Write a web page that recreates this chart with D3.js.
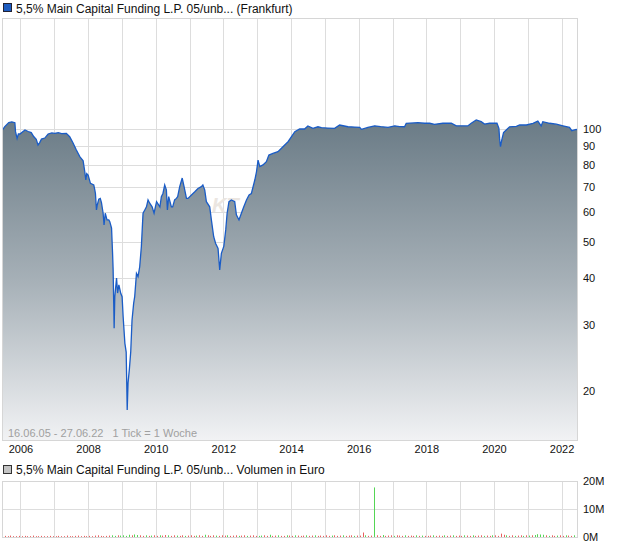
<!DOCTYPE html>
<html><head><meta charset="utf-8">
<script src="https://cdn.jsdelivr.net/npm/d3@7"></script>
<style>
body{margin:0;background:#fff;}
svg{display:block;font-family:"Liberation Sans",Arial,sans-serif;}
</style>
</head><body><svg id="c" width="620" height="546"></svg>
<script>
// ---------- DATA ----------
const titleMain = "5,5% Main Capital Funding L.P. 05/unb... (Frankfurt)";
const titleVol = "5,5% Main Capital Funding L.P. 05/unb... Volumen in Euro";
const infoText = "16.06.05 - 27.06.22   1 Tick = 1 Woche";
const rangeStart = "2005-06-16";
const rangeEnd = "2022-06-27";

const priceDates = [
"2005-06-16","2005-07-16","2005-08-28","2005-09-30","2005-11-02","2005-11-09","2005-11-26","2005-12-10","2005-12-26",
"2006-02-19","2006-03-26","2006-04-28","2006-05-24","2006-06-21","2006-07-10","2006-07-28","2006-08-16","2006-09-21","2006-10-27","2006-12-06",
"2007-01-08","2007-02-13","2007-03-22","2007-05-12","2007-06-17","2007-07-22","2007-08-28","2007-10-04","2007-11-09","2007-11-27","2007-12-08","2007-12-18",
"2008-01-02","2008-01-27","2008-03-03","2008-03-13","2008-03-21","2008-04-01","2008-04-10","2008-04-26","2008-05-12","2008-05-25","2008-06-12","2008-06-22","2008-07-05","2008-07-24","2008-08-12","2008-08-23","2008-09-11","2008-09-22","2008-09-28","2008-10-09","2008-10-16","2008-11-04","2008-11-15","2008-11-29","2008-12-20",
"2009-01-03","2009-01-14","2009-02-02","2009-02-16","2009-02-27","2009-03-08","2009-03-22","2009-04-06","2009-04-20","2009-05-08","2009-05-19","2009-06-07","2009-06-24","2009-07-12","2009-07-30","2009-08-17","2009-09-05","2009-09-23","2009-10-10","2009-10-28","2009-11-23","2009-12-14",
"2010-01-10","2010-02-15","2010-03-03","2010-03-20","2010-04-08","2010-04-26","2010-05-07","2010-05-21","2010-06-19","2010-07-03","2010-07-24","2010-08-12","2010-08-26","2010-09-17","2010-10-14","2010-11-03","2010-11-29","2010-12-16",
"2011-01-22","2011-02-27","2011-04-02","2011-05-09","2011-05-25","2011-06-14","2011-07-02","2011-08-07","2011-08-25","2011-09-19","2011-10-10","2011-11-05","2011-11-23","2011-12-11",
"2012-01-06","2012-01-27","2012-02-11","2012-03-02","2012-03-28","2012-05-03","2012-05-21","2012-06-18","2012-07-14","2012-08-09","2012-09-07","2012-10-05","2012-10-30","2012-12-06","2012-12-24",
"2013-01-10","2013-01-29","2013-03-04","2013-04-10","2013-05-07","2013-06-20","2013-08-13","2013-10-06","2013-11-13","2013-11-30",
"2014-01-06","2014-02-11","2014-04-04","2014-05-27","2014-07-02","2014-08-26","2014-10-19","2014-11-25",
"2015-02-02","2015-04-17","2015-06-10","2015-09-08","2015-11-19",
"2016-01-13","2016-02-01","2016-04-11","2016-06-22","2016-08-26","2016-11-14",
"2017-01-25","2017-03-18","2017-05-11","2017-05-29","2017-10-03","2017-12-14",
"2018-02-07","2018-03-30","2018-06-29","2018-09-28","2018-11-21",
"2019-02-01","2019-03-24","2019-05-01","2019-06-24","2019-08-17","2019-09-22","2019-11-15",
"2020-02-03","2020-02-24","2020-03-02","2020-03-12","2020-03-26","2020-04-14","2020-05-13","2020-06-18","2020-08-30","2020-10-05","2020-12-16",
"2021-02-26","2021-04-19","2021-05-25","2021-06-12","2021-08-24","2021-11-05",
"2022-01-15","2022-03-27","2022-04-21","2022-06-08","2022-06-27"
];
const priceValues = [
99,101.5,104,104.5,104,98.4,94.4,97,97,
99.4,98.5,97.8,95.5,93.9,90.6,92,94,94.6,97,97.6,
97.4,97.8,97.2,97.4,95.4,91.9,87.9,84.4,82.3,76.9,73.1,76,
75.4,71.6,70.9,69,67.3,60.8,62.7,65,65.3,63.6,59.6,55.5,59.6,57.2,57.2,56.6,54.4,46.6,42.1,29.4,35.7,40,36.5,38.4,36.4,
35.7,31.6,26.8,25.4,17.8,21,22.8,25.4,30.9,34.3,35.7,41.2,40.4,42.9,48.6,59.6,60.8,62,64.7,63.4,62,59.6,
64,62,66,67.3,70.9,68.8,60.8,66,62,62,64.7,65.3,66,70.2,74,70.2,65.3,65.3,
66.7,68,69.4,70.2,70.9,68.8,64,62,57.2,51.6,49.5,48,42.1,46.6,
48.6,53.8,59.6,64,64.7,64,59,57.2,59.6,62,64.7,66.7,67.3,73.1,76.9,
82.6,79.4,80.2,81.8,85.2,86.1,87,89.7,91.6,92.5,
95.4,98.4,100,100,101.9,100.4,101.4,100.8,
100.6,100.4,102.5,101.4,101.2,
101,99.8,101,102,101.5,101,
102,101.5,101.4,103.6,104,103.6,
103.6,102.9,103.6,103.6,102,
102,101.9,103.6,105.7,104.6,103.1,103.6,
103.6,100.4,94.4,89.7,93.5,97.8,99.4,101.4,101.7,102.5,102.5,
103.6,105,101.9,104.6,103.6,103,
102,101,99,99.8,99.5
];

const yTickValues = [20,30,40,50,60,70,80,90,100];
const gridYears = [2006,2007,2008,2009,2010,2011,2012,2013,2014,2015,2016,2017,2018,2019,2020,2021,2022];
const labelYears = [2006,2008,2010,2012,2014,2016,2018,2020,2022];

// monthly volume, starting July 2005, in units of 0.1 million euro
const volStartMonth = "2005-07";
const volValues = [
4,3,5,3,3,4,
3,4,3,3,5,3,3,4,3,3,4,3,
3,4,3,3,5,3,3,4,5,3,4,3,
4,3,5,6,4,3,4,5,6,4,6,5,
6,4,8,6,9,7,6,4,6,4,5,6,
4,6,5,7,6,4,6,5,4,6,4,5,
6,4,5,6,4,8,6,4,6,5,4,6,
5,6,4,5,6,4,5,6,4,5,6,4,
4,5,6,4,8,4,5,6,4,4,6,5,
4,6,5,4,5,6,4,5,6,4,5,4,
6,4,5,6,4,5,6,4,5,6,4,5,
5,16,6,4,5,177,6,4,7,4,5,6,
4,6,5,4,6,4,5,4,6,4,5,4,
4,5,6,4,5,4,6,4,5,6,4,5,
4,6,5,4,6,4,5,6,4,5,4,6,
6,4,12,8,6,4,6,4,5,6,4,6,
5,6,7,10,9,8,6,4,6,4,5,6,
4,6,5,4,6,5
];
const volDirection = [
"dddddd",
"dddddddddddd",
"dddddddddddd",
"dddddddduudu",
"uuuduuddudud",
"duddudduddud",
"dduddudddudd",
"dudddudduddd",
"uudduddudd" + "ud",
"duddduddud" + "dd",
"ddudddudddud",
"ddudduddud" + "dd",
"udddudddudud",
"ddudddudd" + "udd",
"duddudddud" + "du",
"dddduddudd" + "ud",
"uduuuududd" + "ud",
"duddud"
].join("");
const volTickValues = [0,10,20];
const volTickLabels = ["0M","10M","20M"];

// ---------- DRAW ----------
const svg = d3.select("#c");
const parse = d3.timeParse("%Y-%m-%d");
const L = 2, R = 578, T = 18, B = 440;
const VT = 481, VB = 537;

const x = d3.scaleTime().domain([parse(rangeStart), parse(rangeEnd)]).range([L, R]);
const y = d3.scaleLog().domain([14.8, 197.8]).range([B, T]);
const yv = d3.scaleLinear().domain([0, 20]).range([VB, VT]);

const defs = svg.append("defs");
const grad = defs.append("linearGradient").attr("id","g").attr("gradientUnits","userSpaceOnUse")
  .attr("x1",0).attr("x2",0).attr("y1",120).attr("y2",B);
grad.append("stop").attr("offset",0).attr("stop-color","#6a7b86");
grad.append("stop").attr("offset",0.5).attr("stop-color","#a6b0b7");
grad.append("stop").attr("offset",1).attr("stop-color","#f1f2f4");
defs.append("clipPath").attr("id","cp").append("rect").attr("x",L).attr("y",T).attr("width",R-L).attr("height",B-T);

// legend main
svg.append("rect").attr("x",3.5).attr("y",3.5).attr("width",8).attr("height",8).attr("fill","#1d5cc0").attr("stroke","#223");
svg.append("text").attr("x",16).attr("y",12.5).attr("font-size",12).attr("fill","#111").text(titleMain);

// main plot background + grid
svg.append("rect").attr("x",L).attr("y",T).attr("width",R-L).attr("height",B-T).attr("fill","#fff");
const gGrid = svg.append("g").attr("stroke","#dddddd").attr("stroke-width",1);
gGrid.selectAll("line.v").data(gridYears).join("line")
  .attr("x1",d=>Math.round(x(new Date(d,0,1)))+0.5).attr("x2",d=>Math.round(x(new Date(d,0,1)))+0.5)
  .attr("y1",T).attr("y2",B);
gGrid.selectAll("line.h").data(yTickValues).join("line")
  .attr("x1",L).attr("x2",R)
  .attr("y1",d=>Math.round(y(d))+0.5).attr("y2",d=>Math.round(y(d))+0.5);

// watermark
svg.append("text").attr("x",212).attr("y",212).attr("font-size",20).attr("font-style","italic")
  .attr("fill","#ebe6e1").attr("font-weight","bold").text("KT");

const pts = priceDates.map((d,i)=>({d:parse(d), v:priceValues[i]}));
const area = d3.area().x(p=>x(p.d)).y0(B).y1(p=>y(p.v));
const line = d3.line().x(p=>x(p.d)).y(p=>y(p.v));
const gp = svg.append("g").attr("clip-path","url(#cp)");
gp.append("path").datum(pts).attr("d",area).attr("fill","url(#g)");
gp.append("path").datum(pts).attr("d",line).attr("fill","none").attr("stroke","#1a5cc6").attr("stroke-width",1.3);

svg.append("text").attr("x",8).attr("y",437).attr("font-size",11).attr("fill","#a0a0a0").attr("xml:space","preserve").text(infoText);

svg.append("rect").attr("x",L+0.5).attr("y",T+0.5).attr("width",R-L-1).attr("height",B-T).attr("fill","none").attr("stroke","#d6d6d6");

// right y axis
const ya = d3.axisRight(y).tickValues(yTickValues).tickFormat(d3.format("d")).tickSize(0).tickPadding(6);
svg.append("g").attr("transform",`translate(${R-1},0)`).call(ya)
  .call(g=>g.select(".domain").remove())
  .selectAll("text").attr("font-size",11).attr("fill","#111").attr("font-family","Liberation Sans, Arial, sans-serif");

// x axis
const xa = d3.axisBottom(x).tickValues(labelYears.map(yr=>new Date(yr,0,1))).tickFormat(d3.timeFormat("%Y")).tickSize(0).tickPadding(5);
svg.append("g").attr("transform",`translate(0,${B})`).call(xa)
  .call(g=>g.select(".domain").remove())
  .selectAll("text").attr("font-size",11).attr("fill","#111").attr("font-family","Liberation Sans, Arial, sans-serif");

// ---------- volume panel ----------
svg.append("rect").attr("x",3.5).attr("y",465.5).attr("width",8).attr("height",8).attr("fill","#c4c4c4").attr("stroke","#333");
svg.append("text").attr("x",16).attr("y",474).attr("font-size",12).attr("fill","#111").text(titleVol);

svg.append("rect").attr("x",L).attr("y",VT).attr("width",R-L).attr("height",VB-VT).attr("fill","#fff");
const gvg = svg.append("g").attr("stroke","#dddddd");
gvg.selectAll("line.v").data(gridYears).join("line")
  .attr("x1",d=>Math.round(x(new Date(d,0,1)))+0.5).attr("x2",d=>Math.round(x(new Date(d,0,1)))+0.5)
  .attr("y1",VT).attr("y2",VB);
gvg.selectAll("line.h").data(volTickValues).join("line")
  .attr("x1",L).attr("x2",R)
  .attr("y1",d=>Math.round(yv(d))+0.5).attr("y2",d=>Math.round(yv(d))+0.5);

const m0 = d3.timeParse("%Y-%m")(volStartMonth);
const vols = volValues.map((v,i)=>({d:d3.timeMonth.offset(m0,i), v:v/10, up:volDirection[i]==="u"}));
svg.append("g").selectAll("rect").data(vols).join("rect")
  .attr("x",p=>Math.round(x(d3.timeDay.offset(p.d,14))))
  .attr("width",1)
  .attr("y",p=>yv(p.v))
  .attr("height",p=>Math.max(1,VB-yv(p.v)))
  .attr("fill",p=>p.up?"#55d655":"#e8605f");

svg.append("rect").attr("x",L+0.5).attr("y",VT+0.5).attr("width",R-L-1).attr("height",VB-VT).attr("fill","none").attr("stroke","#d6d6d6");

const va = d3.axisRight(yv).tickValues(volTickValues).tickFormat((d,i)=>volTickLabels[i]).tickSize(0).tickPadding(6);
svg.append("g").attr("transform",`translate(${R-1},0)`).call(va)
  .call(g=>g.select(".domain").remove())
  .selectAll("text").attr("font-size",11).attr("fill","#111").attr("font-family","Liberation Sans, Arial, sans-serif");
</script>
</body></html>
